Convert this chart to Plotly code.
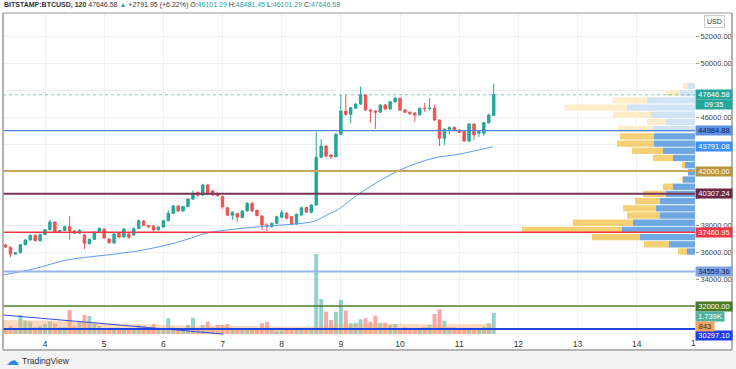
import plotly.graph_objects as go

# ---------------- data ----------------
day_ticks = [4, 5, 6, 7, 8, 9, 10, 11, 12, 13, 14]
day_labels = ["4", "5", "6", "7", "8", "9", "10", "11", "12", "13", "14"]

# 2-hour candles starting day 3, 04:00
first_candle_day = 3 + 4 / 12
candle_step = 1 / 12

opens = [36520, 36350, 35850, 35950, 36540, 36890, 37240, 36840, 37290, 37650,
         38220, 37480, 37600, 37870, 37560, 37390, 37260, 36620, 36940, 37500,
         37690, 36960, 36670, 37430, 37110, 37330, 37260, 37730, 38300, 37980,
         37930, 37650, 37850, 38320, 38870, 39410, 39040, 39370, 39920, 40400,
         40220, 40960, 40520, 40300, 40100, 39280, 38730, 38850, 38550, 39040,
         39610, 39090, 38670, 38000, 37880, 38130, 38580, 38870, 38620, 38080,
         38740, 39310, 38940, 39480, 43010, 43850, 43180, 43060, 44720, 46440,
         46200, 46640, 46960, 47630, 46520, 46440, 46350, 46890, 46590, 47130,
         47390, 46520, 46350, 46300, 46160, 46640, 46620, 46650, 45780, 44420,
         45090, 45230, 45040, 44920, 44220, 45480, 44800, 44800, 45580, 46101.29]
highs = [36600, 36400, 36000, 36600, 36950, 37300, 37290, 37330, 37700, 38370,
         38250, 37650, 37950, 38670, 37600, 37700, 37350, 37000, 37550, 37850,
         37750, 37000, 37380, 37480, 37780, 37400, 37800, 38400, 38350, 38000,
         37980, 37900, 38380, 39100, 39480, 39450, 39420, 39990, 40550, 40500,
         41050, 41050, 40600, 40470, 40180, 39350, 39000, 38900, 39100, 39700,
         39700, 39150, 38700, 38150, 38200, 38700, 39100, 38950, 38650, 38850,
         39350, 39350, 39550, 44910, 44370, 43900, 43250, 44800, 47630, 47630,
         46750, 47050, 48260, 47700, 46600, 46500, 46950, 46950, 47200, 47500,
         47450, 46600, 46420, 46350, 46700, 47060, 47400, 46900, 45800, 45150,
         45300, 45300, 45100, 44950, 45550, 45520, 45000, 45650, 46250, 48481.45]
lows = [36300, 35630, 35800, 35900, 36500, 36850, 36800, 36750, 37250, 37600,
        37400, 37450, 37550, 36890, 37350, 37350, 36220, 36550, 36900, 37480,
        36980, 36620, 36600, 37050, 37050, 37000, 37200, 37700, 37950, 37800,
        37500, 37600, 37800, 38250, 38800, 38950, 39000, 39300, 39850, 40100,
        40150, 40250, 40150, 40100, 39200, 38650, 38380, 38240, 38500, 39000,
        38990, 38650, 37630, 37560, 37800, 38050, 38500, 38400, 38000, 38000,
        38700, 38900, 38850, 39400, 42950, 43000, 42900, 43000, 44650, 46100,
        45560, 46600, 46900, 46450, 45560, 45110, 46300, 46500, 46550, 47050,
        46450, 46300, 46150, 45650, 46100, 46400, 46500, 45700, 43850, 43930,
        44700, 44950, 44800, 44150, 44150, 44300, 44520, 44600, 45500, 46101.29]
closes = [36370, 35850, 35950, 36540, 36890, 37240, 36840, 37290, 37650, 38220,
          37480, 37600, 37870, 37560, 37390, 37610, 36650, 36940, 37480, 37730,
          37040, 36690, 37330, 37110, 37700, 37090, 37730, 38320, 37980, 37850,
          37650, 37850, 38320, 38870, 39410, 39040, 39370, 39920, 40290, 40200,
          40960, 40300, 40220, 40170, 39350, 38730, 38950, 38600, 39040, 39610,
          39040, 38700, 38000, 37930, 38130, 38620, 38920, 38500, 38080, 38800,
          39280, 38960, 39480, 43010, 43850, 43110, 43060, 44720, 46440, 46200,
          46690, 46960, 47630, 46520, 46440, 46350, 46890, 46590, 47130, 47390,
          46520, 46350, 46250, 46160, 46640, 46620, 46650, 45780, 44420, 45090,
          45230, 45040, 44870, 44220, 45480, 44670, 44910, 45580, 46150, 47646.58]
volumes = [385, 656, 328, 1558, 1091, 1009, 549, 656, 820, 1009,
           877, 549, 549, 1968, 656, 1009, 1558, 1476, 820, 656,
           385, 328, 328, 328, 435, 435, 385, 738, 656, 467,
           820, 328, 467, 1287, 549, 385, 328, 738, 1337, 328,
           738, 1009, 549, 738, 738, 820, 467, 385, 385, 385,
           385, 385, 877, 1009, 328, 271, 271, 328, 385, 328,
           328, 328, 467, 6560, 2870, 1829, 1148, 1829, 2788, 1911,
           877, 927, 1205, 1287, 1009, 1501, 927, 927, 738, 820,
           467, 549, 385, 328, 467, 549, 738, 1640, 2025, 1091,
           549, 549, 328, 385, 328, 385, 328, 599, 877, 1739]

# moving average (read points)
ma_days = [3.29, 3.80, 4.37, 4.93, 5.49, 6.11, 6.40, 6.74, 7.08, 7.63,
           8.43, 8.56, 8.82, 8.94, 9.32, 10.00, 10.56, 11.01, 11.57]
ma_prices = [34297, 34741, 35407, 35726, 36023, 36571, 36941, 37408, 37630, 37874,
             38171, 38297, 38867, 39111, 40348, 42074, 42941, 43259, 43800]

# volume moving-average band
vma_days = [3.29, 4.0, 4.8, 5.6, 6.5, 7.5, 8.3, 8.6, 9.0, 9.5, 10.0, 10.5, 11.0, 11.58]
vma_vals = [1150, 1100, 950, 800, 700, 650, 600, 650, 800, 850, 820, 780, 800, 843]

# trend line in volume pane
trend_days = [3.29, 7.01]
trend_vals = [1560, 0]

# volume profile (price bins, up / down volume)
vp_prices = [48296 - 533 * k for k in range(24)]
vp_up = [7, 15, 48, 68, 44, 29, 42, 41, 41, 32, 22, 10, 7, 12, 22, 29, 35, 39, 35, 62, 73, 55, 26, 8]
vp_down = [5, 14, 34, 62, 38, 19, 35, 34, 37, 31, 20, 3, 0, 1, 10, 23, 25, 33, 33, 60, 100, 48, 25, 9]
vp_light_rows = 7

# horizontal levels: (price, line colour, width, badge bg, badge text colour)
levels = [
    (44984.88, "#4f86e8", 1.2, "#5e90e6", "#10204a"),
    (42000.00, "#c8a55a", 2, "#b8953a", "white"),
    (40307.24, "#7a3458", 2, "#6e2648", "white"),
    (37460.95, "#f23645", 1.5, "#f23645", "white"),
    (34559.36, "#98b6ea", 2, "#7ea2e2", "#10204a"),
    (32000.00, "#4f8030", 1.5, "#4a7a28", "white"),
    (30297.10, "#2342e6", 2, "#1f3de8", "white"),
]
last_price = 47646.58
ma_last = 43791.08
price_ticks = [30000, 32000, 34000, 36000, 38000, 40000, 42000, 44000, 46000, 48000, 50000, 52000]
hidden_tick_labels = [30000, 32000, 40000, 42000, 44000, 48000]

# ---------------- figure ----------------
candle_days = [first_candle_day + i * candle_step for i in range(len(closes))]
UP, DOWN = "#26a69a", "#ef5350"

# axis scaling (13.5 px per 1000 USD)
y_bottom, y_top = 29704.6, 53703.3

fig = go.Figure()

# volume band + bars (y3)
fig.add_trace(go.Scatter(x=vma_days, y=vma_vals, mode="lines", line=dict(width=0, shape="spline"),
                         fill="tozeroy", fillcolor="rgba(246,168,115,0.45)",
                         xaxis="x", yaxis="y3", hoverinfo="skip"))
vol_colors = ["rgba(38,166,154,0.5)" if c >= o else "rgba(239,83,80,0.5)" for o, c in zip(opens, closes)]
fig.add_trace(go.Bar(x=candle_days, y=volumes, marker=dict(color=vol_colors, line=dict(width=0)),
                     width=candle_step * 0.8, xaxis="x", yaxis="y3"))
fig.add_trace(go.Scatter(x=trend_days, y=trend_vals, mode="lines", line=dict(color="#3050e0", width=1),
                         xaxis="x", yaxis="y3"))

# volume profile (x2 reversed, y price)
up_cols = ["#d2e3f5" if k < vp_light_rows else "#6ea7e1" for k in range(len(vp_prices))]
dn_cols = ["#fcedc8" if k < vp_light_rows else "#f5cf73" for k in range(len(vp_prices))]
fig.add_trace(go.Bar(y=vp_prices, x=vp_up, base=[0] * len(vp_up), orientation="h", width=470,
                     marker=dict(color=up_cols, line=dict(width=0)), xaxis="x2", yaxis="y"))
fig.add_trace(go.Bar(y=vp_prices, x=vp_down, base=vp_up, orientation="h", width=470,
                     marker=dict(color=dn_cols, line=dict(width=0)), xaxis="x2", yaxis="y"))

# moving average
fig.add_trace(go.Scatter(x=ma_days, y=ma_prices, mode="lines",
                         line=dict(color="#5b9cf6", width=1, shape="spline"), xaxis="x", yaxis="y"))

# candles
fig.add_trace(go.Candlestick(x=candle_days, open=opens, high=highs, low=lows, close=closes,
                             increasing=dict(line=dict(color=UP, width=1), fillcolor=UP),
                             decreasing=dict(line=dict(color=DOWN, width=1), fillcolor=DOWN),
                             whiskerwidth=0, xaxis="x", yaxis="y"))

shapes = []
for p, col, w, _, _ in levels:
    shapes.append(dict(type="line", xref="paper", x0=0, x1=1, yref="y", y0=p, y1=p,
                       line=dict(color=col, width=w), layer="above"))
shapes.append(dict(type="line", xref="paper", x0=0, x1=1, yref="y", y0=last_price, y1=last_price,
                   line=dict(color="rgba(38,166,154,0.6)", width=1, dash="dot"), layer="above"))

def px_x(px):
    return (px - 3) / 692

def px_y(py):
    return (337 - py) / 324

shapes.append(dict(type="rect", xref="paper", yref="paper", x0=px_x(0), x1=px_x(736), y0=px_y(369), y1=px_y(351),
                   fillcolor="#f2f2f2", line=dict(width=0), layer="below"))
shapes.append(dict(type="line", xref="paper", yref="paper", x0=px_x(3), x1=px_x(732), y0=px_y(350), y1=px_y(350),
                   line=dict(color="#b5b5b5", width=2)))
shapes.append(dict(type="line", xref="paper", yref="paper", x0=px_x(3), x1=px_x(732), y0=px_y(13), y1=px_y(13),
                   line=dict(color="#9a9a9a", width=1.2)))
shapes.append(dict(type="line", xref="paper", yref="paper", x0=px_x(3), x1=px_x(3), y0=px_y(13), y1=px_y(350),
                   line=dict(color="#9a9a9a", width=1.5)))
shapes.append(dict(type="line", xref="paper", yref="paper", x0=px_x(732), x1=px_x(732), y0=px_y(13), y1=px_y(350),
                   line=dict(color="#9a9a9a", width=1.5)))

FONT = "Liberation Sans, Arial, sans-serif"
annotations = []

def badge(y, text, bg, fg, yref="y", yshift=0, width=36):
    annotations.append(dict(xref="paper", x=1.0, xanchor="left", yref=yref, y=y, yanchor="middle",
                            text=text, showarrow=False, bgcolor=bg, borderpad=0, yshift=yshift,
                            width=width, height=9, align="center",
                            font=dict(family=FONT, size=7.5, color=fg)))

badge(last_price, f"{last_price:.2f}", "#26a69a", "white")
badge(last_price, "09:35", "#26a69a", "white", yshift=-10)
badge(ma_last, f"{ma_last:.2f}", "#3d8ff0", "white")
for p, _, _, bg, fg in levels[:-1]:
    badge(p, f"{p:.2f}", bg, fg)
badge(levels[-1][0], f"{levels[-1][0]:.2f}", levels[-1][3], "white", yshift=-6)
badge(volumes[-1], "1.739K", "#4fb3a3", "white", yref="y3", yshift=-4, width=28)
badge(vma_vals[-1], "843", "#f4a160", "#3a2a10", yref="y3", yshift=-3, width=18)

hdr = ('<b>BITSTAMP:BTCUSD, 120</b> 47646.58 <span style="color:#26a69a">▲</span> +2791.95 (+6.22%) '
       'O:<span style="color:#26a69a">46101.29</span> H:<span style="color:#26a69a">48481.45</span> '
       'L:<span style="color:#26a69a">46101.29</span> C:<span style="color:#26a69a">47646.58</span>')
annotations.append(dict(xref="paper", yref="paper", x=px_x(2), y=px_y(5), xanchor="left", yanchor="middle",
                        text=hdr, showarrow=False, font=dict(family=FONT, size=7, color="#333")))
annotations.append(dict(xref="paper", yref="paper", x=px_x(714), y=px_y(21), xanchor="center", yanchor="middle",
                        text="USD", showarrow=False, bordercolor="#cccccc", borderwidth=1, borderpad=2,
                        font=dict(family=FONT, size=7, color="#333")))
annotations.append(dict(xref="paper", yref="paper", x=px_x(693), y=px_y(343), xanchor="center", yanchor="middle",
                        text="1", showarrow=False, font=dict(family=FONT, size=8.5, color="#333")))
annotations.append(dict(xref="paper", yref="paper", x=px_x(12), y=px_y(361), xanchor="center", yanchor="middle",
                        text="☁", showarrow=False, font=dict(family="DejaVu Sans", size=13, color="#2a8ae6")))
annotations.append(dict(xref="paper", yref="paper", x=px_x(20), y=px_y(361), xanchor="left", yanchor="middle",
                        text="TradingView", showarrow=False, font=dict(family=FONT, size=8.5, color="#333")))

fig.update_layout(
    width=736, height=369, margin=dict(l=3, r=41, t=13, b=32, autoexpand=False),
    paper_bgcolor="white", plot_bgcolor="white", showlegend=False, barmode="overlay",
    font=dict(family=FONT, size=8, color="#333"),
    xaxis=dict(range=[3.2902, 14.985], tickvals=day_ticks, ticktext=day_labels, showgrid=True,
               gridcolor="#f0f0f0", zeroline=False, showline=False, ticks="",
               tickfont=dict(size=8.5, color="#333"), rangeslider=dict(visible=False), fixedrange=True),
    yaxis=dict(range=[y_bottom, y_top], side="right", tickvals=price_ticks,
               ticktext=["" if t in hidden_tick_labels else f"{t:.2f}" for t in price_ticks],
               showgrid=True, gridcolor="#f0f0f0",
               zeroline=False, showline=False, ticks="outside", ticklen=3, tickcolor="#999",
               tickfont=dict(size=7.5, color="#444"), fixedrange=True),
    xaxis2=dict(overlaying="x", range=[692, 0], visible=False, fixedrange=True),
    yaxis3=dict(overlaying="y", range=[-246, 26322], visible=False, fixedrange=True),
    shapes=shapes, annotations=annotations,
)

fig.write_html("out.html", config={"displayModeBar": False},
               post_script="document.body.style.margin='0';document.body.style.overflow='hidden';")
